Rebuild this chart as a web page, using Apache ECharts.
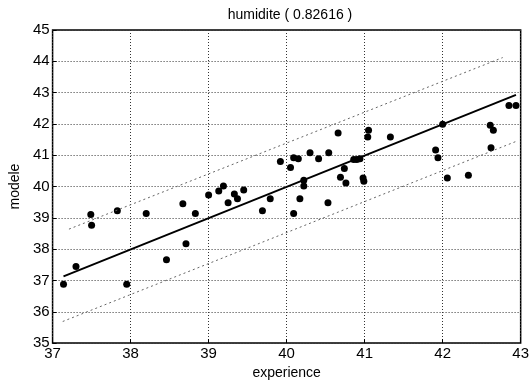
<!DOCTYPE html>
<html>
<head>
<meta charset="utf-8">
<script src="https://cdn.jsdelivr.net/npm/echarts@6/dist/echarts.min.js"></script>
<style>
  html, body { margin: 0; padding: 0; background: #fff; }
  #chart { width: 532px; height: 385px; }
</style>
</head>
<body>
<div id="chart"></div>
<script>
var titleText = 'humidite ( 0.82616 )';
var xTicks = [37, 38, 39, 40, 41, 42, 43];
var yTicks = [35, 36, 37, 38, 39, 40, 41, 42, 43, 44, 45];

var experience = [37.14, 37.30, 37.49, 37.50, 37.83, 37.95, 38.20, 38.46, 38.67, 38.71,
  38.83, 39.00, 39.13, 39.19, 39.25, 39.33, 39.37, 39.45, 39.69, 39.79,
  39.92, 40.05, 40.09, 40.15, 40.09, 40.17, 40.22, 40.22, 40.30, 40.41,
  40.54, 40.53, 40.66, 41.05, 41.04, 41.33, 40.86, 40.90, 40.94, 40.74,
  40.69, 40.76, 40.98, 40.99, 41.91, 41.94, 42.06, 42.33, 42.61, 42.65,
  42.62, 42.85, 42.94, 42.00];
var modele = [36.88, 37.45, 39.11, 38.76, 39.23, 36.88, 39.14, 37.66, 39.45, 38.17,
  39.14, 39.73, 39.86, 40.02, 39.48, 39.76, 39.61, 39.89, 39.23, 39.61,
  40.80, 40.61, 40.92, 40.89, 39.14, 39.61, 40.20, 40.02, 41.08, 40.89,
  41.08, 39.48, 41.71, 41.80, 41.58, 41.58, 40.86, 40.86, 40.89, 40.58,
  40.30, 40.11, 40.27, 40.17, 41.17, 40.92, 40.27, 40.36, 41.96, 41.80,
  41.24, 42.59, 42.59, 41.99];

// fit line and confidence band end points
var fitX = [37.14, 42.94];
var fitY = [37.13, 42.93];
var upperX = [37.21, 42.77];
var upperY = [38.64, 44.12];
var lowerX = [37.13, 42.96];
var lowerY = [35.69, 41.46];

function pairs(xs, ys) {
  var out = [];
  for (var i = 0; i < xs.length; i++) {
    out.push([xs[i], ys[i]]);
  }
  return out;
}

var chart = echarts.init(document.getElementById('chart'));
var font = 'Liberation Sans, Arial, sans-serif';

chart.setOption({
  backgroundColor: '#ffffff',
  animation: false,
  title: {
    text: titleText,
    left: 285,
    top: 3,
    textAlign: 'center',
    textStyle: { fontFamily: font, fontSize: 14, fontWeight: 'normal', color: '#000' }
  },
  grid: { left: 45, right: 9, top: 30, bottom: 36, show: true, borderColor: '#000', borderWidth: 1.5 },
  xAxis: {
    type: 'value',
    min: xTicks[0],
    max: xTicks[xTicks.length - 1],
    interval: 1,
    name: 'experience',
    nameLocation: 'middle',
    nameGap: 22,
    nameTextStyle: { fontFamily: font, fontSize: 14, color: '#000' },
    axisLine: { show: false },
    axisTick: { inside: true, length: 4, lineStyle: { color: '#000' } },
    axisLabel: { fontFamily: font, fontSize: 15, color: '#000', margin: 3 },
    splitLine: { lineStyle: { color: '#333', type: [1, 2], width: 1 } }
  },
  yAxis: {
    type: 'value',
    min: yTicks[0],
    max: yTicks[yTicks.length - 1],
    interval: 1,
    name: 'modele',
    nameLocation: 'middle',
    nameGap: 28,
    nameTextStyle: { fontFamily: font, fontSize: 14, color: '#000' },
    axisLine: { show: false },
    axisTick: { inside: true, length: 4, lineStyle: { color: '#000' } },
    axisLabel: { fontFamily: font, fontSize: 15, color: '#000', margin: 3 },
    splitLine: { lineStyle: { color: '#333', type: [1, 2], width: 1 } }
  },
  series: [
    {
      type: 'line',
      data: pairs(upperX, upperY),
      symbol: 'none',
      lineStyle: { color: '#666', width: 1, type: [2, 3] },
      silent: true
    },
    {
      type: 'line',
      data: pairs(lowerX, lowerY),
      symbol: 'none',
      lineStyle: { color: '#666', width: 1, type: [2, 3] },
      silent: true
    },
    {
      type: 'line',
      data: pairs(fitX, fitY),
      symbol: 'none',
      lineStyle: { color: '#000', width: 2 },
      silent: true
    },
    {
      type: 'scatter',
      data: pairs(experience, modele),
      symbol: 'circle',
      symbolSize: 7,
      itemStyle: { color: '#000', opacity: 1 }
    }
  ]
});
</script>
</body>
</html>
